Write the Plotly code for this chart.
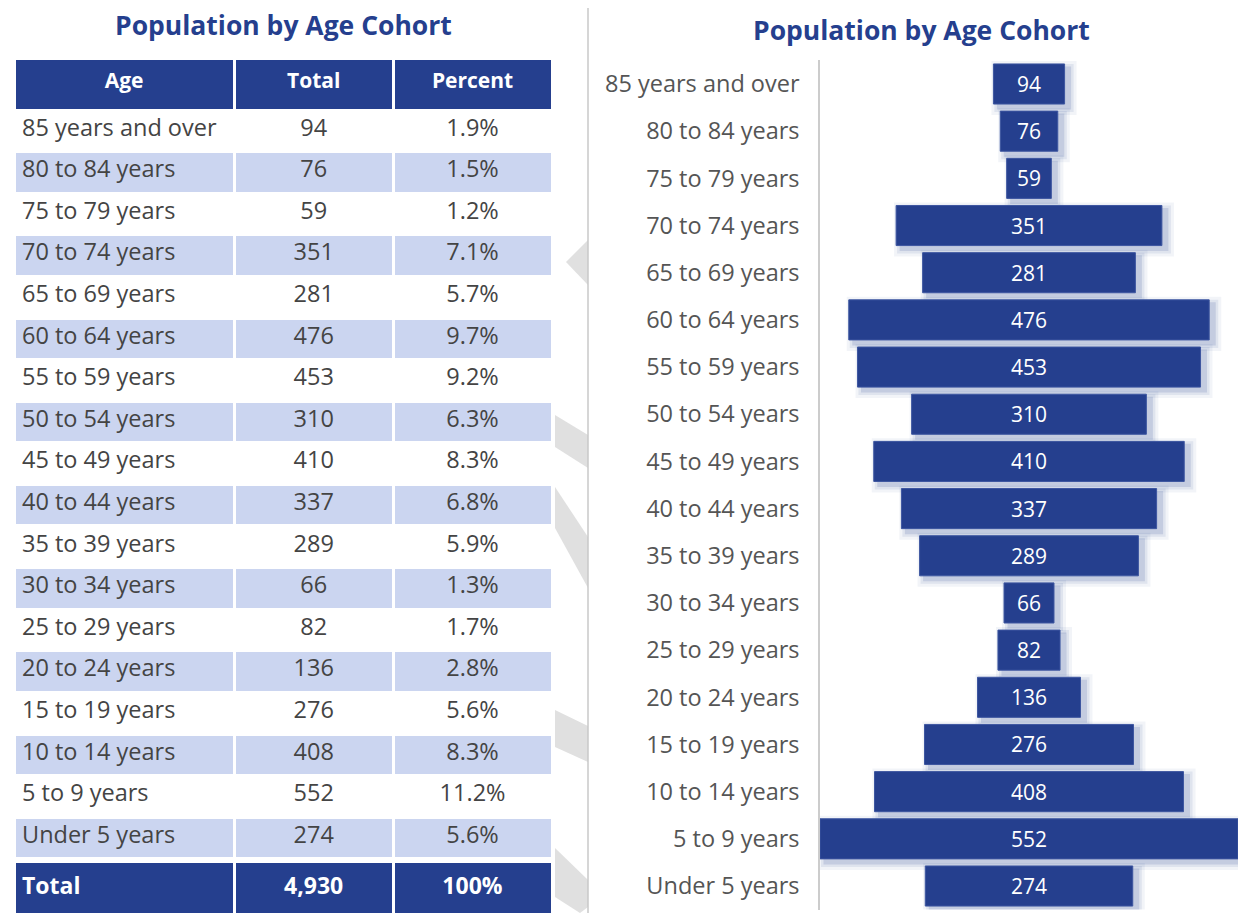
import plotly.graph_objects as go

# data
ages = [
    "85 years and over", "80 to 84 years", "75 to 79 years", "70 to 74 years",
    "65 to 69 years", "60 to 64 years", "55 to 59 years", "50 to 54 years",
    "45 to 49 years", "40 to 44 years", "35 to 39 years", "30 to 34 years",
    "25 to 29 years", "20 to 24 years", "15 to 19 years", "10 to 14 years",
    "5 to 9 years", "Under 5 years",
]
totals = [94, 76, 59, 351, 281, 476, 453, 310, 410, 337, 289, 66, 82, 136, 276, 408, 552, 274]
percents = ["1.9%", "1.5%", "1.2%", "7.1%", "5.7%", "9.7%", "9.2%", "6.3%", "8.3%",
            "6.8%", "5.9%", "1.3%", "1.7%", "2.8%", "5.6%", "8.3%", "11.2%", "5.6%"]
header_labels = ["Age", "Total", "Percent"]
total_row = ["Total", "4,930", "100%"]
title = "Population by Age Cohort"

# page has an 8px body margin, so the figure is a bit smaller than the window
PAD = 8
W, H = 1252 - 2 * PAD, 921 - 2 * PAD
NAVY = "#253f8e"
LIGHT = "#cbd5f0"
FONT = "Open Sans, Noto Sans, sans-serif"


def px(x, y):
    """window pixel -> paper coords (clamped)"""
    fx = min(max((x - PAD) / W, 0), 1)
    fy = min(max(1 - (y - PAD) / H, 0), 1)
    return fx, fy


def poly(points):
    pts = [px(x, y) for x, y in points]
    d = "M " + " L ".join(f"{a:.5f},{b:.5f}" for a, b in pts) + " Z"
    return dict(type="path", xref="paper", yref="paper", path=d,
                fillcolor="#e0e0e0", line=dict(width=0), layer="below")


fig = go.Figure()

# ---- table ----
x0, _ = px(14, 0)
x1, _ = px(552, 0)
_, ytop = px(0, 58)
_, ybot = px(0, 860)
row_fill = ["white" if i % 2 == 0 else LIGHT for i in range(len(ages))]

fig.add_trace(go.Table(
    domain=dict(x=[x0, x1], y=[ybot, ytop]),
    columnwidth=[219, 158, 158],
    header=dict(
        values=[f"<b>{h}</b>" for h in header_labels],
        fill_color=NAVY,
        line=dict(color="white", width=3),
        align="center",
        font=dict(color="white", size=21, family=FONT),
        height=52,
    ),
    cells=dict(
        values=[ages, [str(v) for v in totals], percents],
        fill_color=[row_fill] * 3,
        line=dict(color="white", width=3),
        align=["left", "center", "center"],
        font=dict(color="#444444", size=23.5, family=FONT),
        height=41.6,
    ),
))

_, tb_top = px(0, 861)
_, tb_bot = px(0, 913)
fig.add_trace(go.Table(
    domain=dict(x=[x0, x1], y=[tb_bot, tb_top]),
    columnwidth=[219, 158, 158],
    header=dict(
        values=[f"<b>{t}</b>" for t in total_row],
        fill_color=NAVY,
        line=dict(color="white", width=3),
        align=["left", "center", "center"],
        font=dict(color="white", size=23, family=FONT),
        height=54,
    ),
    cells=dict(values=[]),
))

# ---- centred bar chart ----
half = [-v / 2 for v in totals]
ux = 1 / 0.757   # value units per pixel
uy = 1 / 47.2    # category units per pixel

# soft shadow layers
for grow, alpha in [(7, 0.06), (4, 0.09), (1.5, 0.14)]:
    fig.add_trace(go.Bar(
        y=ages, x=[v + 2 * grow * ux for v in totals],
        base=[b + (5 - grow) * ux for b in half],
        orientation="h", width=0.85 + 2 * grow * uy, offset=-0.425 + (4 - grow) * uy,
        marker=dict(color=f"rgba(37,63,142,{alpha})", line=dict(width=0)),
        hoverinfo="skip", showlegend=False,
    ))

fig.add_trace(go.Bar(
    y=ages, x=totals, base=half, orientation="h",
    width=0.85, offset=-0.425,
    marker=dict(color=NAVY, line=dict(color="#3d56a0", width=1)),
    text=[str(v) for v in totals], textposition="inside",
    insidetextanchor="middle", constraintext="none",
    textfont=dict(color="white", size=21, family=FONT),
    showlegend=False,
))

bx0, _ = px(820, 0)
bx1, _ = px(1238, 0)
_, by_bot = px(0, 909.6)
_, by_top = px(0, 60.4)

fig.update_layout(
    width=W, height=H,
    margin=dict(l=0, r=0, t=0, b=0),
    paper_bgcolor="white", plot_bgcolor="white",
    barmode="overlay",
    font=dict(family=FONT),
    xaxis=dict(domain=[bx0, bx1], range=[-276, 276], visible=False, fixedrange=True),
    yaxis=dict(
        domain=[by_bot, by_top], type="category",
        range=[len(ages) - 0.5, -0.5], autorange=False,
        showline=True, linecolor="#cccccc", linewidth=1.5,
        showgrid=False, zeroline=False, ticks="", ticklabelstandoff=14,
        tickfont=dict(size=23.5, color="#555555", family=FONT),
    ),
)

# titles
for cx, cy in [(283, 25), (921, 30)]:
    ax, ay = px(cx, cy)
    fig.add_annotation(
        text=f"<b>{title}</b>", x=ax, y=ay, xref="paper", yref="paper",
        showarrow=False, xanchor="center", yanchor="middle",
        font=dict(size=26.5, color=NAVY, family=FONT),
    )

# divider and decorative watermark shapes
dx, _ = px(588, 0)
shapes = [
    poly([(566, 262), (588, 240), (588, 285)]),
    poly([(555, 415), (588, 435), (588, 468), (555, 447)]),
    poly([(555, 487), (588, 537), (588, 588), (555, 528)]),
    poly([(555, 710), (588, 726), (588, 762), (555, 747)]),
    poly([(555, 848), (588, 880), (588, 907), (580, 913), (555, 897)]),
    dict(type="line", xref="paper", yref="paper", x0=dx, x1=dx, y0=0, y1=1,
         line=dict(color="#c8c8c8", width=1.5)),
]
fig.update_layout(shapes=shapes)

fig.write_html("out.html")
